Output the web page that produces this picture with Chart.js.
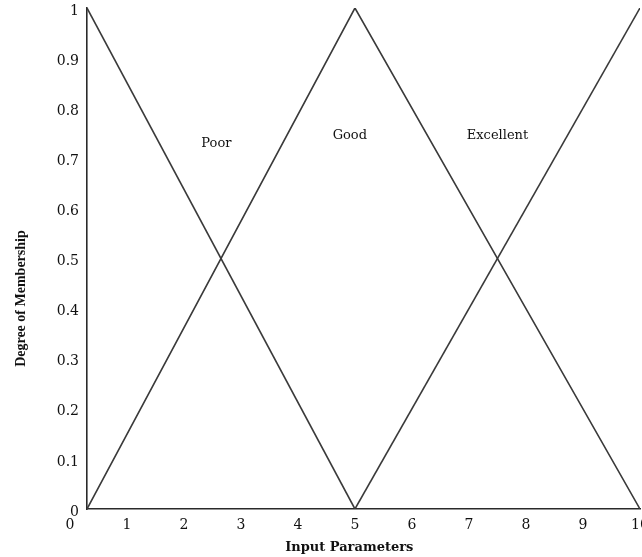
<!DOCTYPE html>
<html>
<head>
<meta charset="utf-8">
<script src="https://cdn.jsdelivr.net/npm/chart.js@4/dist/chart.umd.min.js"></script>
<style>
  html, body { margin: 0; padding: 0; background: #fff; }
  #wrap { width: 642px; height: 557px; }
</style>
</head>
<body>
<div id="wrap"><canvas id="membershipChart" width="642" height="557"></canvas></div>
<script>
  // membership functions
  const poorX = [0.3, 5];
  const poorY = [1, 0];
  const goodX = [0.3, 5, 10];
  const goodY = [0, 1, 0];
  const excellentX = [5, 10];
  const excellentY = [0, 1];

  const xTicks = [0, 1, 2, 3, 4, 5, 6, 7, 8, 9, 10];
  const yTicks = [0, 0.1, 0.2, 0.3, 0.4, 0.5, 0.6, 0.7, 0.8, 0.9, 1];

  const xTitle = "Input Parameters";
  const yTitle = "Degree of Membership";

  // text labels inside the plot (in data units)
  const setNames = ["Poor", "Good", "Excellent"];
  const setNameX = [2.57, 4.91, 7.5];
  const setNameY = [0.73, 0.745, 0.745];

  function toPoints(xs, ys) {
    return xs.map((x, i) => ({ x: x, y: ys[i] }));
  }

  const lineStyle = {
    borderColor: "#3a3a3a",
    borderWidth: 1.6,
    pointRadius: 0,
    fill: false,
    tension: 0
  };

  // set names and the axis titles (the y title sits a bit below centre in the original)
  const textPlugin = {
    id: "chartText",
    afterDatasetsDraw(chart) {
      const ctx = chart.ctx;
      const xs = chart.scales.x;
      const ys = chart.scales.y;
      ctx.save();
      ctx.fillStyle = "#111";
      ctx.textAlign = "center";
      ctx.textBaseline = "middle";

      ctx.font = "13px 'DejaVu Serif'";
      setNames.forEach((name, i) => {
        ctx.fillText(name, xs.getPixelForValue(setNameX[i]), ys.getPixelForValue(setNameY[i]));
      });

      ctx.font = "bold 13px 'DejaVu Serif'";
      ctx.fillText(xTitle, xs.getPixelForValue(4.9), chart.height - 9);

      ctx.font = "bold 14px 'Liberation Serif'";
      ctx.translate(21, ys.getPixelForValue(0.42));
      ctx.rotate(-Math.PI / 2);
      ctx.fillText(yTitle, 0, 0);
      ctx.restore();
    }
  };

  new Chart(document.getElementById("membershipChart"), {
    type: "line",
    data: {
      datasets: [
        Object.assign({ label: "Poor", data: toPoints(poorX, poorY) }, lineStyle),
        Object.assign({ label: "Good", data: toPoints(goodX, goodY) }, lineStyle),
        Object.assign({ label: "Excellent", data: toPoints(excellentX, excellentY) }, lineStyle)
      ]
    },
    options: {
      responsive: false,
      animation: false,
      layout: { padding: { top: 8, right: 2, left: 0, bottom: 0 } },
      plugins: {
        legend: { display: false },
        tooltip: { enabled: false }
      },
      scales: {
        x: {
          type: "linear",
          min: 0.3,
          max: 10,
          grid: { display: false, drawTicks: false },
          border: { display: true, color: "#2a2a2a", width: 1.6 },
          ticks: {
            autoSkip: false,
            padding: 8,
            color: "#111",
            font: { family: "'DejaVu Serif'", size: 14 },
            callback: v => String(v)
          },
          afterBuildTicks: scale => { scale.ticks = xTicks.map(v => ({ value: v })); },
          afterFit: scale => {
            scale.height = 48;
            scale.paddingLeft = 0; scale.paddingRight = 0;
          }
        },
        y: {
          type: "linear",
          min: 0,
          max: 1,
          grid: { display: false, drawTicks: false },
          border: { display: true, color: "#2a2a2a", width: 1.6 },
          ticks: {
            autoSkip: false,
            padding: 8,
            labelOffset: 3,
            color: "#111",
            font: { family: "'DejaVu Serif'", size: 14 },
            callback: v => String(+Number(v).toFixed(1))
          },
          afterBuildTicks: scale => { scale.ticks = yTicks.map(v => ({ value: v })); },
          afterFit: scale => {
            scale.width = 87;
            scale.paddingTop = 0; scale.paddingBottom = 0;
          }
        }
      }
    },
    plugins: [textPlugin]
  });
</script>
</body>
</html>
